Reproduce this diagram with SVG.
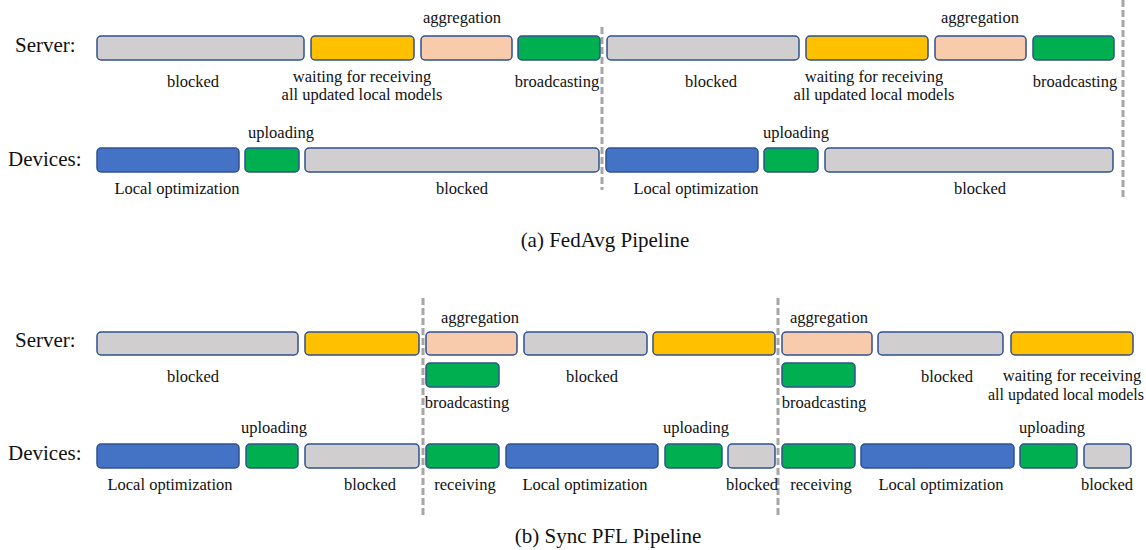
<svg xmlns="http://www.w3.org/2000/svg" width="1146" height="550" viewBox="0 0 1146 550">
<style>
.b{stroke:#2F528F;stroke-width:1.5}
.gr{fill:#D0CECE}.ye{fill:#FFC000}.pe{fill:#F8CBAD}.gn{fill:#00B050}.bl{fill:#4472C4}
text{font-family:"Liberation Serif","Times New Roman",serif;fill:#111}
.l{font-size:16.5px;text-anchor:middle}
.h{font-size:21px}
.c{font-size:21px;text-anchor:middle}
.d{stroke:#A6A6A6;stroke-width:3;stroke-dasharray:7 3;fill:none}
</style>
<rect width="1146" height="550" fill="#fff"/>
<g id="row-labels">
<text class="h" x="15" y="52">Server:</text>
<text class="h" x="8" y="166">Devices:</text>
<text class="h" x="15" y="347">Server:</text>
<text class="h" x="8" y="460">Devices:</text>
</g>
<g id="dividers">
<line class="d" x1="602" y1="27" x2="602" y2="190"/>
<line class="d" x1="1123" y1="0" x2="1123" y2="200"/>
<line class="d" x1="423" y1="298" x2="423" y2="518"/>
<line class="d" x1="778" y1="298" x2="778" y2="518"/>
</g>
<!-- (a) FedAvg server -->
<g id="a-s1"><rect class="b gr" x="97" y="36" width="207" height="24" rx="4"/><text class="l" x="193" y="87">blocked</text></g>
<g id="a-s2"><rect class="b ye" x="311" y="36" width="103" height="24" rx="4"/><text class="l" x="362" y="82">waiting for receiving</text><text class="l" x="362" y="100">all updated local models</text></g>
<g id="a-s3"><rect class="b pe" x="421" y="36" width="91" height="24" rx="4"/><text class="l" x="462" y="23">aggregation</text></g>
<g id="a-s4"><rect class="b gn" x="518" y="36" width="82" height="24" rx="4"/><text class="l" x="557" y="87">broadcasting</text></g>
<g id="a-s5"><rect class="b gr" x="607" y="36" width="192" height="24" rx="4"/><text class="l" x="711" y="87">blocked</text></g>
<g id="a-s6"><rect class="b ye" x="806" y="36" width="122" height="24" rx="4"/><text class="l" x="874" y="82">waiting for receiving</text><text class="l" x="874" y="100">all updated local models</text></g>
<g id="a-s7"><rect class="b pe" x="935" y="36" width="91" height="24" rx="4"/><text class="l" x="980" y="23">aggregation</text></g>
<g id="a-s8"><rect class="b gn" x="1033" y="36" width="81" height="24" rx="4"/><text class="l" x="1075" y="87">broadcasting</text></g>
<!-- (a) devices -->
<g id="a-d1"><rect class="b bl" x="97" y="148" width="142" height="24" rx="4"/><text class="l" x="177" y="194">Local optimization</text></g>
<g id="a-d2"><rect class="b gn" x="245" y="148" width="54" height="24" rx="4"/><text class="l" x="281" y="138">uploading</text></g>
<g id="a-d3"><rect class="b gr" x="305" y="148" width="294" height="24" rx="4"/><text class="l" x="462" y="194">blocked</text></g>
<g id="a-d4"><rect class="b bl" x="606" y="148" width="152" height="24" rx="4"/><text class="l" x="696" y="194">Local optimization</text></g>
<g id="a-d5"><rect class="b gn" x="764" y="148" width="54" height="24" rx="4"/><text class="l" x="796" y="138">uploading</text></g>
<g id="a-d6"><rect class="b gr" x="825" y="148" width="288" height="24" rx="4"/><text class="l" x="980" y="194">blocked</text></g>
<g id="caption-a"><text class="c" x="605" y="247">(a) FedAvg Pipeline</text></g>
<!-- (b) Sync PFL server -->
<g id="b-s1"><rect class="b gr" x="97" y="332" width="201" height="23" rx="4"/><text class="l" x="193" y="382">blocked</text></g>
<g id="b-s2"><rect class="b ye" x="305" y="332" width="114" height="23" rx="4"/></g>
<g id="b-s3"><rect class="b pe" x="426" y="332" width="91" height="23" rx="4"/><text class="l" x="480" y="323">aggregation</text></g>
<g id="b-s4"><rect class="b gn" x="426" y="363" width="73" height="24" rx="4"/><text class="l" x="467" y="408">broadcasting</text></g>
<g id="b-s5"><rect class="b gr" x="524" y="332" width="123" height="23" rx="4"/><text class="l" x="592" y="382">blocked</text></g>
<g id="b-s6"><rect class="b ye" x="653" y="332" width="122" height="23" rx="4"/></g>
<g id="b-s7"><rect class="b pe" x="782" y="332" width="90" height="23" rx="4"/><text class="l" x="829" y="323">aggregation</text></g>
<g id="b-s8"><rect class="b gn" x="782" y="363" width="73" height="24" rx="4"/><text class="l" x="824" y="408">broadcasting</text></g>
<g id="b-s9"><rect class="b gr" x="878" y="332" width="125" height="23" rx="4"/><text class="l" x="947" y="382">blocked</text></g>
<g id="b-s10"><rect class="b ye" x="1011" y="332" width="122" height="23" rx="4"/><text class="l" x="1072" y="381">waiting for receiving</text><text class="l" x="1066" y="400" style="font-size:16px">all updated local models</text></g>
<!-- (b) devices -->
<g id="b-d1"><rect class="b bl" x="97" y="444" width="142" height="24" rx="4"/><text class="l" x="170" y="490">Local optimization</text></g>
<g id="b-d2"><rect class="b gn" x="246" y="444" width="52" height="24" rx="4"/><text class="l" x="274" y="433">uploading</text></g>
<g id="b-d3"><rect class="b gr" x="305" y="444" width="114" height="24" rx="4"/><text class="l" x="370" y="490">blocked</text></g>
<g id="b-d4"><rect class="b gn" x="426" y="444" width="73" height="24" rx="4"/><text class="l" x="465" y="490">receiving</text></g>
<g id="b-d5"><rect class="b bl" x="506" y="444" width="152" height="24" rx="4"/><text class="l" x="585" y="490">Local optimization</text></g>
<g id="b-d6"><rect class="b gn" x="665" y="444" width="57" height="24" rx="4"/><text class="l" x="696" y="433">uploading</text></g>
<g id="b-d7"><rect class="b gr" x="728" y="444" width="47" height="24" rx="4"/><text class="l" x="752" y="490">blocked</text></g>
<g id="b-d8"><rect class="b gn" x="782" y="444" width="73" height="24" rx="4"/><text class="l" x="821" y="490">receiving</text></g>
<g id="b-d9"><rect class="b bl" x="861" y="444" width="153" height="24" rx="4"/><text class="l" x="941" y="490">Local optimization</text></g>
<g id="b-d10"><rect class="b gn" x="1020" y="444" width="57" height="24" rx="4"/><text class="l" x="1052" y="433">uploading</text></g>
<g id="b-d11"><rect class="b gr" x="1084" y="444" width="47" height="24" rx="4"/><text class="l" x="1107" y="490">blocked</text></g>
<g id="caption-b"><text class="c" x="608" y="543">(b) Sync PFL Pipeline</text></g>
</svg>
